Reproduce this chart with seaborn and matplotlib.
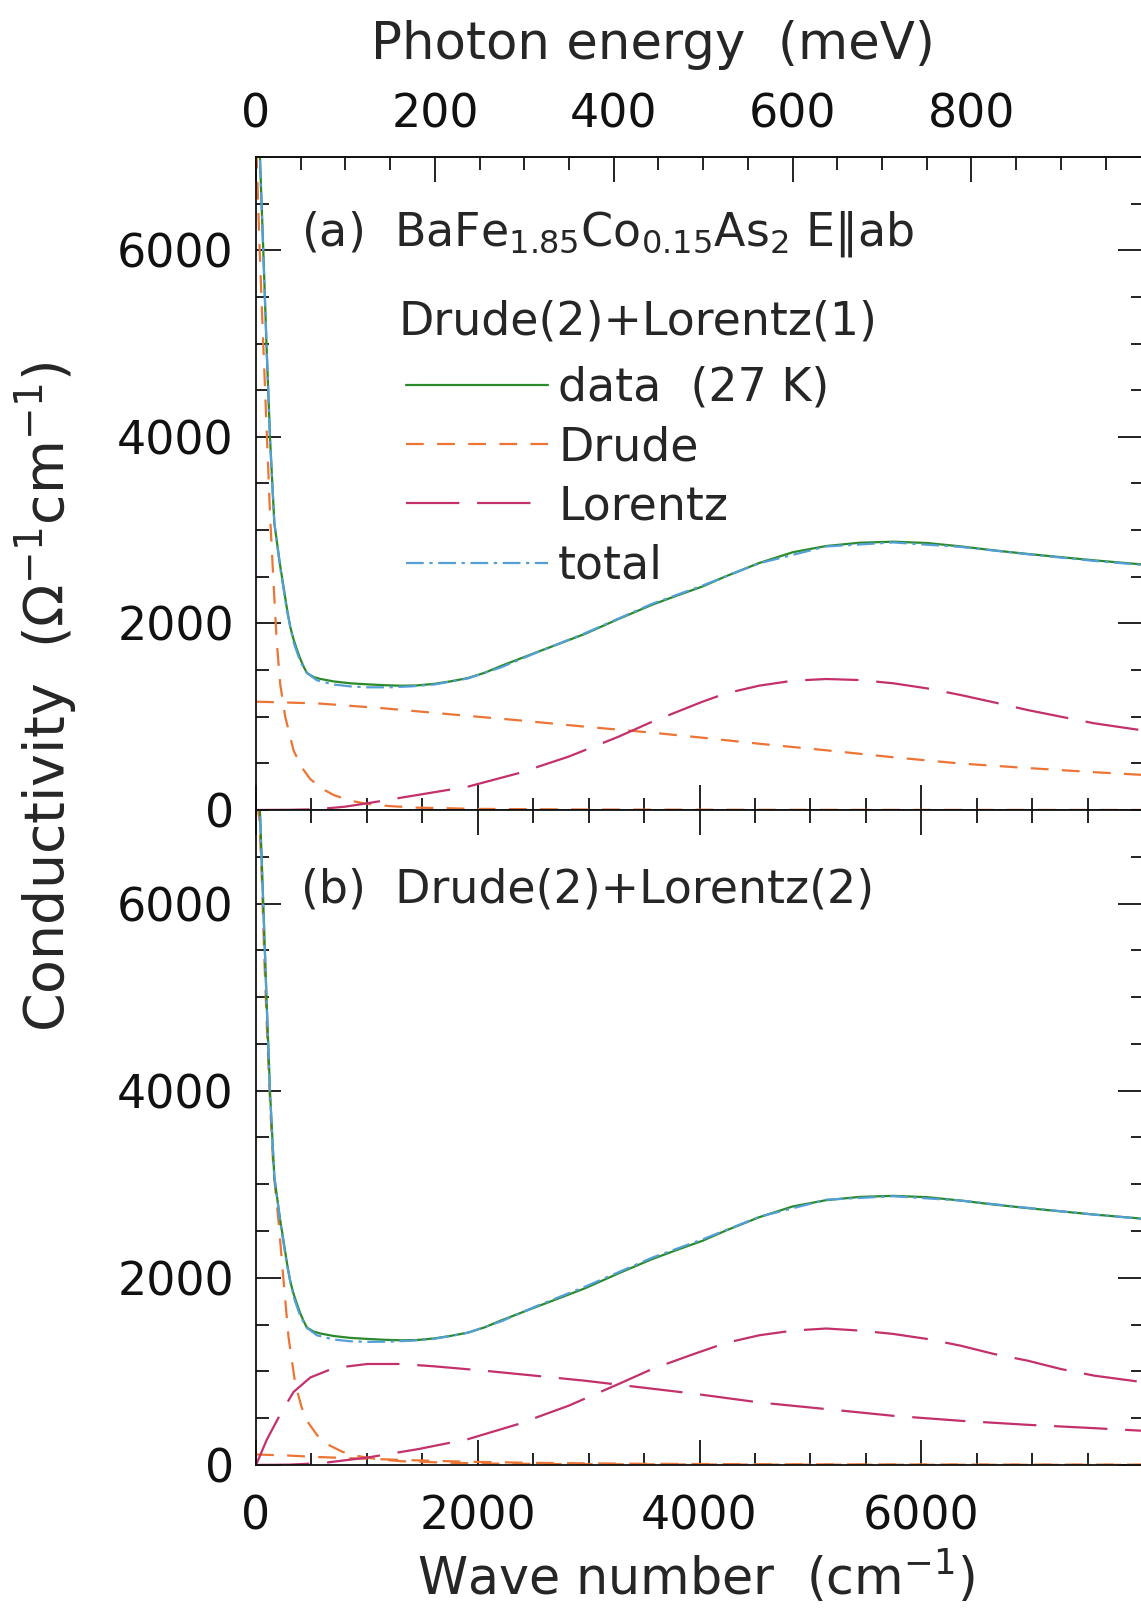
import numpy as np
import pandas as pd
import matplotlib
matplotlib.use('Agg')
import matplotlib.pyplot as plt
from matplotlib.ticker import FixedLocator, MultipleLocator
import seaborn as sns

# measured spectrum (same in both panels), wave number in cm^-1, sigma in 1/(Ohm cm)
w_data = [20, 36, 66, 97, 127, 165, 218, 248, 278, 308, 338, 369, 399, 430, 459,
          520, 580, 701, 850, 1004, 1150, 1305, 1450, 1607, 1750, 1910, 2060, 2212,
          2514, 2740, 2967, 3270, 3572, 3800, 4025, 4237, 4539, 4841, 5143, 5446,
          5748, 6050, 6353, 6655, 6957, 7259, 7561, 8015]
s_data = [7600, 6967, 5980, 4900, 3966, 3075, 2615, 2393, 2165, 1965, 1830, 1720, 1620, 1535, 1468,
          1425, 1405, 1378, 1358, 1347, 1338, 1332, 1335, 1352, 1378, 1414, 1470, 1545,
          1683, 1785, 1888, 2048, 2200, 2300, 2395, 2505, 2648, 2763, 2830, 2865,
          2876, 2862, 2826, 2783, 2745, 2710, 2676, 2630]

# model totals
w_tot = [0, 20, 40, 66, 97, 127, 165, 218, 278, 338, 399, 459, 550, 701, 850, 1004, 1200,
         1400, 1607, 1910, 2212, 2514, 2967, 3572, 4025, 4539, 5143, 5748, 6353, 6957, 7561, 8015]
tot_a = [9000, 7600, 6800, 5950, 4900, 3950, 3080, 2600, 2140, 1800, 1590, 1470, 1390, 1345, 1325, 1315, 1315,
         1325, 1345, 1410, 1530, 1680, 1895, 2210, 2405, 2645, 2825, 2868, 2820, 2742, 2670, 2625]
tot_b = [9000, 7600, 6800, 5950, 4900, 3950, 3080, 2600, 2140, 1800, 1590, 1465, 1385, 1340, 1322, 1315, 1318,
         1328, 1348, 1412, 1535, 1690, 1905, 2215, 2410, 2652, 2835, 2872, 2826, 2748, 2675, 2628]

# panel (a): Drude(2)+Lorentz(1)
w_dn_a = [0, 6, 30, 52, 75, 97, 127, 157, 187, 218, 263, 338, 410, 490, 600, 701, 850,
          1004, 1200, 1457, 2000, 3000, 4500, 6000, 8015]
s_dn_a = [7400, 6967, 6100, 5394, 4700, 4040, 3150, 2450, 1800, 1350, 1000, 640, 460, 330, 225, 160, 100,
          65, 42, 25, 12, 5, 2, 1, 0.5]
w_dw_a = [0, 550, 1154, 1759, 2363, 2967, 3572, 4025, 4539, 5143, 5748, 6353, 6957, 7561, 8015]
s_dw_a = [1161, 1143, 1090, 1025, 962, 893, 829, 775, 710, 640, 565, 498, 450, 405, 375]
w_l_a = [0, 300, 550, 800, 1004, 1457, 1910, 2363, 2817, 3270, 3572, 4025, 4237, 4539, 4841,
         5143, 5446, 5748, 6050, 6353, 6655, 6957, 7259, 7561, 8015]
s_l_a = [0, 2, 8, 35, 72, 161, 250, 393, 571, 786, 946, 1160, 1250, 1333, 1386,
         1404, 1393, 1358, 1304, 1233, 1154, 1072, 1000, 929, 850]

# panel (b): Drude(2)+Lorentz(2)
w_dn_b = [0, 6, 30, 52, 75, 97, 127, 157, 202, 248, 293, 354, 410, 459, 550, 641, 780, 913,
          1100, 1305, 1700, 2061, 3000, 4500, 6000, 8015]
s_dn_b = [7400, 7100, 6900, 6270, 5400, 4700, 3850, 3151, 2615, 1972, 1365, 865, 620, 472, 320, 222, 140, 96,
          60, 40, 25, 15, 8, 4, 2, 1]
w_dw_b = [0, 300, 550, 900, 1275, 1877, 2500, 3500, 5000, 6500, 8015]
s_dw_b = [112, 100, 85, 70, 55, 35, 22, 12, 6, 4, 3]
w_l1_b = [0, 97, 218, 338, 490, 701, 1004, 1305, 1607, 2061, 2514, 2967, 3421, 3935, 4539,
          5143, 5748, 6353, 6957, 7561, 8015]
s_l1_b = [0, 270, 540, 780, 935, 1035, 1079, 1079, 1054, 1007, 954, 900, 836, 764, 668,
          597, 525, 472, 429, 393, 364]
w_l2_b = [0, 300, 600, 1004, 1457, 1910, 2363, 2817, 3270, 3572, 3935, 4237, 4539, 4841, 5143,
          5446, 5748, 6050, 6353, 6655, 6957, 7259, 7561, 8015]
s_l2_b = [0, 3, 20, 79, 168, 275, 436, 632, 865, 1025, 1180, 1304, 1386, 1436, 1458,
          1436, 1400, 1347, 1275, 1186, 1115, 1025, 954, 882]

x_major = [0, 2000, 4000, 6000]
y_major = [0, 2000, 4000, 6000]
mev_major = [0, 200, 400, 600, 800]

green = '#2a8a2a'
orange = '#ec7434'
magenta = '#c3306c'
blue = '#549fd6'

sns.set_style('ticks')
plt.rcParams['font.family'] = ['DejaVu Sans']
plt.rcParams['mathtext.default'] = 'regular'

FS = 33
LW = 1.6
ls_drude = (0, (8, 6))
ls_lor = (0, (24, 8))
ls_tot = (0, (8, 2.5, 1.5, 2.5))

fig = plt.figure(figsize=(11.41, 16.10), dpi=100)
ax1 = fig.add_axes([0.2244, 0.4969, 0.7774, 0.4056])
ax2 = fig.add_axes([0.2244, 0.0901, 0.7774, 0.4068])


def line(ax, w, s, color, ls, label=None):
    df = pd.DataFrame({'w': w, 's': s})
    sns.lineplot(data=df, x='w', y='s', ax=ax, color=color, linestyle=ls, lw=LW,
                 estimator=None, sort=False, errorbar=None, label=label, legend=False)


# panel (a)
line(ax1, w_dn_a, s_dn_a, orange, ls_drude)
line(ax1, w_dw_a, s_dw_a, orange, ls_drude)
line(ax1, w_l_a, s_l_a, magenta, ls_lor)
line(ax1, w_data, s_data, green, '-')
line(ax1, w_tot, tot_a, blue, ls_tot)

# panel (b)
line(ax2, w_dn_b, s_dn_b, orange, ls_drude)
line(ax2, w_dw_b, s_dw_b, orange, ls_drude)
line(ax2, w_l1_b, s_l1_b, magenta, ls_lor)
line(ax2, w_l2_b, s_l2_b, magenta, ls_lor)
line(ax2, w_data, s_data, green, '-')
line(ax2, w_tot, tot_b, blue, ls_tot)

for ax in (ax1, ax2):
    ax.set_xlim(0, 8000)
    ax.set_ylim(0, 7000)
    ax.set_xlabel('')
    ax.set_ylabel('')
    ax.xaxis.set_major_locator(FixedLocator(x_major))
    ax.xaxis.set_minor_locator(MultipleLocator(500))
    ax.yaxis.set_major_locator(FixedLocator(y_major))
    ax.yaxis.set_minor_locator(MultipleLocator(500))
    ax.tick_params(which='both', direction='in', width=1.3, colors='#111111',
                   left=True, right=True, labelsize=FS)
    ax.tick_params(which='major', length=18)
    ax.tick_params(which='minor', length=9)
    ax.tick_params(axis='y', pad=16)
    for sp in ax.spines.values():
        sp.set_linewidth(1.3)
        sp.set_color('#111111')

ax1.tick_params(axis='x', which='both', top=False, bottom=True, labelbottom=False)
ax2.tick_params(axis='x', which='both', top=True, bottom=True, labelbottom=True, pad=21)

sec = ax1.secondary_xaxis('top', functions=(lambda w: w / 8.06554, lambda e: e * 8.06554))
sec.xaxis.set_major_locator(FixedLocator(mev_major))
sec.xaxis.set_minor_locator(MultipleLocator(50))
sec.tick_params(which='both', direction='in', width=1.3, labelsize=FS, pad=14, colors='#111111')
sec.tick_params(which='major', length=18)
sec.tick_params(which='minor', length=9)
sec.spines['top'].set_linewidth(1.3)

# legend in panel (a)
handles = [
    plt.Line2D([], [], color=green, lw=LW, linestyle='-'),
    plt.Line2D([], [], color=orange, lw=LW, linestyle=ls_drude),
    plt.Line2D([], [], color=magenta, lw=LW, linestyle=ls_lor),
    plt.Line2D([], [], color=blue, lw=LW, linestyle=ls_tot),
]
ax1.legend(handles, ['data  (27 K)', 'Drude', 'Lorentz', 'total'], loc='upper left',
           bbox_to_anchor=(0.169, 0.68), frameon=False, fontsize=FS, handlelength=3.1,
           handletextpad=0.22, labelspacing=0.31, borderpad=0, borderaxespad=0)

ax1.text(0.0507, 0.882, '(a)  BaFe$_{1.85}$Co$_{0.15}$As$_2$ E\u2016ab', transform=ax1.transAxes,
         fontsize=FS, va='center', ha='left')
ax1.text(0.161, 0.748, 'Drude(2)+Lorentz(1)', transform=ax1.transAxes,
         fontsize=FS, va='center', ha='left')
ax2.text(0.0507, 0.878, '(b)  Drude(2)+Lorentz(2)', transform=ax2.transAxes,
         fontsize=FS, va='center', ha='left')

fig.text(0.040, 0.567, 'Conductivity  ($\\Omega^{-1}$cm$^{-1}$)', rotation=90,
         fontsize=40, va='center', ha='center')
fig.text(0.61, 0.0095, 'Wave number  (cm$^{-1}$)', fontsize=36.5, va='baseline', ha='center')
fig.text(0.5723, 0.972, 'Photon energy  (meV)', fontsize=37, va='center', ha='center')

fig.savefig('out.png', dpi=100)
